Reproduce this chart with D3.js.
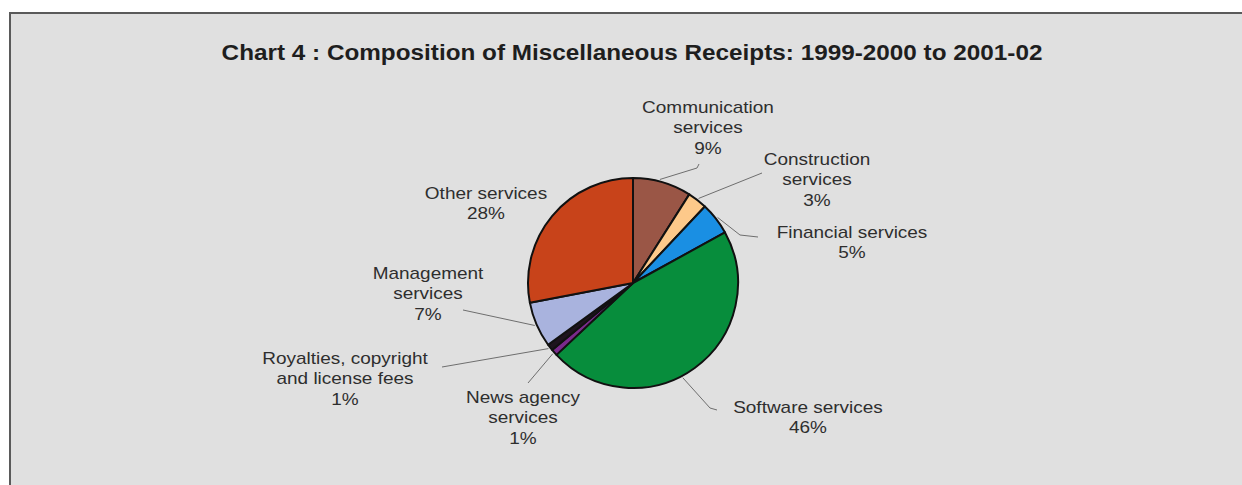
<!DOCTYPE html>
<html>
<head>
<meta charset="utf-8">
<script src="https://cdn.jsdelivr.net/npm/d3@7"></script>
<style>
  html, body { margin: 0; padding: 0; background: #ffffff; overflow: hidden; }
  svg { display: block; }
  text { font-family: "Liberation Sans", Arial, sans-serif; }
</style>
</head>
<body>
<svg id="chart" width="1242" height="485"></svg>
<script>
// Composition of miscellaneous receipts, 1999-2000 to 2001-02 (per cent)
const categories = [
  "Communication services",
  "Construction services",
  "Financial services",
  "Software services",
  "News agency services",
  "Royalties, copyright and license fees",
  "Management services",
  "Other services"
];
const shares = [9, 3, 5, 46, 1, 1, 7, 28];
const labelLines = [
  ["Communication", "services", "9%"],
  ["Construction", "services", "3%"],
  ["Financial services", "5%"],
  ["Software services", "46%"],
  ["News agency", "services", "1%"],
  ["Royalties, copyright", "and license fees", "1%"],
  ["Management", "services", "7%"],
  ["Other services", "28%"]
];
const sliceColors = ["#9a5646", "#fdc98a", "#1a8fe3", "#078d3c", "#7a2a8c", "#1e141e", "#a9b3de", "#c8431a"];

// Layout
const cx = 633, cy = 283, radius = 105;
const labelPos = [
  [708, 107], [817, 159], [852, 232], [808, 407],
  [523, 397], [345, 358], [428, 273], [486, 193]
];
// Leader lines: bend/end points after the start on the slice edge
const leaders = [
  { slice: 0, pts: [[697, 168], [699, 164]] },
  { slice: 1, pts: [[762, 173]] },
  { slice: 2, pts: [[740, 235], [758, 237]] },
  { slice: 3, pts: [[710, 408], [717, 410]] },
  { slice: 4, pts: [[528, 383]] },
  { slice: 5, pts: [[442, 367]] },
  { slice: 6, pts: [[463, 310]] }
];
// where along each slice's arc the leader starts
const leaderFrac = [0.45, 0.5, 0.5, 0.55, 0.5, 0.5, 0.5];

const svg = d3.select("#chart");

// Frame and background
svg.append("rect")
  .attr("x", 10).attr("y", 13)
  .attr("width", 1300).attr("height", 520)
  .attr("fill", "#e0e0e0")
  .attr("stroke", "#5a5a5a")
  .attr("stroke-width", 2);

// Title (slightly widened face)
svg.append("text")
  .attr("transform", "translate(632,60) scale(1.13,1)")
  .attr("text-anchor", "middle")
  .attr("font-size", 21.5)
  .attr("font-weight", "bold")
  .attr("fill", "#1e1e1e")
  .text("Chart 4 : Composition of Miscellaneous Receipts: 1999-2000 to 2001-02");

const data = categories.map((c, i) => ({ name: c, value: shares[i], color: sliceColors[i], lines: labelLines[i], pos: labelPos[i] }));

const pie = d3.pie().value(d => d.value).sort(null);
const arcs = pie(data);
const arcGen = d3.arc().innerRadius(0).outerRadius(radius);

const g = svg.append("g").attr("transform", `translate(${cx},${cy})`);

g.selectAll("path.slice")
  .data(arcs)
  .join("path")
  .attr("class", "slice")
  .attr("d", arcGen)
  .attr("fill", d => d.data.color)
  .attr("stroke", "#111")
  .attr("stroke-width", 2)
  .attr("stroke-linejoin", "round");

// Leader lines from slice edge to label
const line = d3.line();
leaders.forEach((L, k) => {
  const a = arcs[L.slice];
  const ang = a.startAngle + (a.endAngle - a.startAngle) * leaderFrac[k];
  const start = [cx + Math.sin(ang) * (radius + 2), cy - Math.cos(ang) * (radius + 2)];
  svg.append("path")
    .attr("d", line([start, ...L.pts]))
    .attr("fill", "none")
    .attr("stroke", "#6e6e6e")
    .attr("stroke-width", 1);
});

// Labels
const lab = svg.append("g");
data.forEach(d => {
  const t = lab.append("text")
    .attr("transform", `translate(${d.pos[0]},${d.pos[1] + 6}) scale(1.13,1)`)
    .attr("text-anchor", "middle")
    .attr("font-size", 16.8)
    .attr("fill", "#2e2e2e");
  d.lines.forEach((s, j) => {
    t.append("tspan")
      .attr("x", 0)
      .attr("y", j * 20.5)
      .text(s);
  });
});
</script>
</body>
</html>
